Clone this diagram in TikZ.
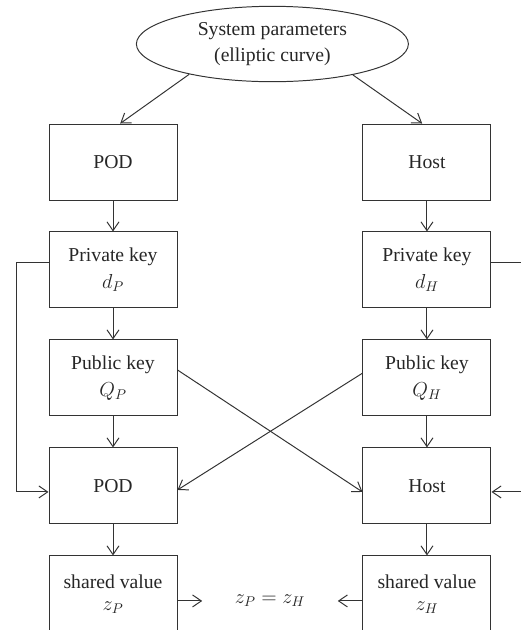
\documentclass[tikz,border=0pt]{standalone}
\usepackage{fontspec}
\setmainfont{Liberation Serif}
\usetikzlibrary{shapes.geometric, arrows.meta, positioning, calc}

\begin{document}
\begin{tikzpicture}[
    every node/.style={text=black!85},
    params/.style={draw=black!80, line width=0.7pt, ellipse, minimum width=6.8cm,
                   minimum height=1.85cm, font=\fontsize{14}{19}\selectfont, align=center},
    party/.style={draw=black!80, line width=0.7pt, minimum width=3.2cm, minimum height=1.9cm,
                  font=\fontsize{14}{19}\selectfont, align=center},
    shared/.style={party, font=\fontsize{14}{15.5}\selectfont},
    arrow/.style={-{Straight Barb[length=2.2mm, width=3mm]}, line width=0.7pt, draw=black!80}
]
\useasboundingbox (0,0) rectangle (13.025,-15.75);
\clip (0,0) rectangle (13.025,-15.75);
\node[params] (sys) at (6.81,-1.1) {System parameters\\(elliptic curve)};
\node[party] (pod) at (2.825,-4.05)        {POD};
\node[party, right=4.625cm of pod]   (host)    {Host};
\node[party, below=0.775cm of pod]   (privp)   {Private key\\$d_P$};
\node[party, below=0.775cm of host]  (privh)   {Private key\\$d_H$};
\node[party, below=0.775cm of privp] (pubp)    {Public key\\$Q_P$};
\node[party, below=0.775cm of privh] (pubh)    {Public key\\$Q_H$};
\node[party, below=0.775cm of pubp]  (pod2)    {POD};
\node[party, below=0.775cm of pubh]  (host2)   {Host};
\node[shared, below=0.775cm of pod2]  (sharedp) {shared value\\$z_P$};
\node[shared, below=0.775cm of host2] (sharedh) {shared value\\$z_H$};
\node[minimum width=3.375cm, font=\fontsize{14}{19}\selectfont] (eq)
     at ($(sharedp)!0.5!(sharedh)+(0,-0.175)$) {$z_P = z_H$};
\draw[arrow] (sys.200) -- ([xshift=0.18cm]pod.north);
\draw[arrow] (sys.-21) -- ([xshift=-0.12cm]host.north);
\draw[arrow] (pod) -- (privp); \draw[arrow] (host) -- (privh);
\draw[arrow] (privp) -- (pubp); \draw[arrow] (privh) -- (pubh);
\draw[arrow] (pubp) -- (pod2); \draw[arrow] (pubh) -- (host2);
\draw[arrow] (pod2) -- (sharedp); \draw[arrow] (host2) -- (sharedh);
\draw[arrow] ([yshift=0.18cm]privp.west) -- ++(-0.8,0) |- ([yshift=-0.15cm]pod2.west);
\draw[arrow] ([yshift=0.18cm]privh.east) -- ++(0.8,0) |- ([yshift=-0.15cm]host2.east);
\draw[arrow] ([yshift=0.2cm]pubp.east) -- ([yshift=-0.15cm]host2.west);
\draw[arrow] ([yshift=0.12cm]pubh.west) -- ([yshift=-0.1cm]pod2.east);
\draw[arrow] (sharedp.east |- eq) -- (eq.west);
\draw[arrow] (sharedh.west |- eq) -- (eq.east);
\end{tikzpicture}
\end{document}
